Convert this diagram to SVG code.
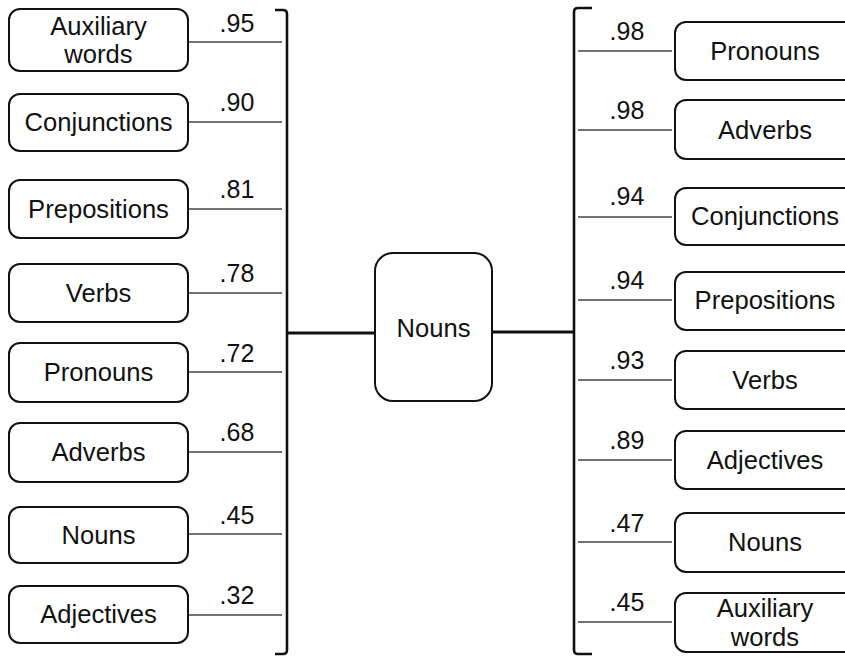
<svg xmlns="http://www.w3.org/2000/svg" width="845" height="657" viewBox="0 0 845 657">
<style>
.box{fill:#fff;stroke:#111;stroke-width:2}
.t{font-family:"Liberation Sans",Arial,sans-serif;font-size:25.6px;fill:#111;text-anchor:middle}
.lbl{font-family:"Liberation Sans",Arial,sans-serif;font-size:25px;fill:#111;text-anchor:middle}
.ln{stroke:#444;stroke-width:1.4;fill:none}
.br{stroke:#111;stroke-width:2.6;fill:none}
.thick{stroke:#111;stroke-width:3;fill:none}
</style>
<rect width="845" height="657" fill="#fff"/>
<g id="connectors">
<path class="br" d="M275,10 H283 Q287,10 287,14 V650 Q287,654 283,654 H275"/>
<path class="br" d="M592,8 H578 Q574,8 574,12 V650 Q574,654 578,654 H592"/>
<line class="thick" x1="288" y1="333" x2="375" y2="333"/>
<line class="thick" x1="492" y1="332" x2="574" y2="332"/>
<line class="ln" x1="188" y1="42" x2="282" y2="42"/>
<line class="ln" x1="188" y1="122" x2="282" y2="122"/>
<line class="ln" x1="188" y1="209" x2="282" y2="209"/>
<line class="ln" x1="188" y1="293" x2="282" y2="293"/>
<line class="ln" x1="188" y1="372" x2="282" y2="372"/>
<line class="ln" x1="188" y1="452" x2="282" y2="452"/>
<line class="ln" x1="188" y1="534" x2="282" y2="534"/>
<line class="ln" x1="188" y1="615" x2="282" y2="615"/>
<text class="lbl" x="237" y="32">.95</text>
<text class="lbl" x="237" y="111">.90</text>
<text class="lbl" x="237" y="198">.81</text>
<text class="lbl" x="237" y="282">.78</text>
<text class="lbl" x="237" y="362">.72</text>
<text class="lbl" x="237" y="441">.68</text>
<text class="lbl" x="237" y="524">.45</text>
<text class="lbl" x="237" y="604">.32</text>
<line class="ln" x1="578" y1="51" x2="672" y2="51"/>
<line class="ln" x1="578" y1="130" x2="672" y2="130"/>
<line class="ln" x1="578" y1="217" x2="672" y2="217"/>
<line class="ln" x1="578" y1="300" x2="672" y2="300"/>
<line class="ln" x1="578" y1="380" x2="672" y2="380"/>
<line class="ln" x1="578" y1="460" x2="672" y2="460"/>
<line class="ln" x1="578" y1="542" x2="672" y2="542"/>
<line class="ln" x1="578" y1="622" x2="672" y2="622"/>
<text class="lbl" x="627" y="40">.98</text>
<text class="lbl" x="627" y="119">.98</text>
<text class="lbl" x="627" y="205">.94</text>
<text class="lbl" x="627" y="289">.94</text>
<text class="lbl" x="627" y="369">.93</text>
<text class="lbl" x="627" y="449">.89</text>
<text class="lbl" x="627" y="532">.47</text>
<text class="lbl" x="627" y="611">.45</text>
</g>
<g id="center-nouns">
<rect class="box" x="375" y="253" width="117" height="148" rx="18"/>
<text class="t" x="433.5" y="337">Nouns</text>
</g>
<g id="L1"><rect class="box" x="9" y="9" width="179" height="62" rx="11"/><text class="t" x="98.5" y="35">Auxiliary</text><text class="t" x="98.5" y="63">words</text></g>
<g id="L2"><rect class="box" x="9" y="94" width="179" height="57" rx="11"/><text class="t" x="98.5" y="131">Conjunctions</text></g>
<g id="L3"><rect class="box" x="9" y="180" width="179" height="58" rx="11"/><text class="t" x="98.5" y="218">Prepositions</text></g>
<g id="L4"><rect class="box" x="9" y="264" width="179" height="58" rx="11"/><text class="t" x="98.5" y="302">Verbs</text></g>
<g id="L5"><rect class="box" x="9" y="343" width="179" height="59" rx="11"/><text class="t" x="98.5" y="381">Pronouns</text></g>
<g id="L6"><rect class="box" x="9" y="423" width="179" height="59" rx="11"/><text class="t" x="98.5" y="461">Adverbs</text></g>
<g id="L7"><rect class="box" x="9" y="507" width="179" height="56" rx="11"/><text class="t" x="98.5" y="544">Nouns</text></g>
<g id="L8"><rect class="box" x="9" y="586" width="179" height="57" rx="11"/><text class="t" x="98.5" y="623">Adjectives</text></g>
<g id="R1"><rect class="box" x="675" y="22" width="180" height="58" rx="11"/><text class="t" x="765" y="60">Pronouns</text></g>
<g id="R2"><rect class="box" x="675" y="100" width="180" height="59" rx="11"/><text class="t" x="765" y="139">Adverbs</text></g>
<g id="R3"><rect class="box" x="675" y="188" width="180" height="57" rx="11"/><text class="t" x="765" y="225">Conjunctions</text></g>
<g id="R4"><rect class="box" x="675" y="272" width="180" height="58" rx="11"/><text class="t" x="765" y="309">Prepositions</text></g>
<g id="R5"><rect class="box" x="675" y="351" width="180" height="58" rx="11"/><text class="t" x="765" y="389">Verbs</text></g>
<g id="R6"><rect class="box" x="675" y="431" width="180" height="58" rx="11"/><text class="t" x="765" y="469">Adjectives</text></g>
<g id="R7"><rect class="box" x="675" y="513" width="180" height="59" rx="11"/><text class="t" x="765" y="551">Nouns</text></g>
<g id="R8"><rect class="box" x="675" y="593" width="180" height="59" rx="11"/><text class="t" x="765" y="617">Auxiliary</text><text class="t" x="765" y="646">words</text></g>
</svg>
